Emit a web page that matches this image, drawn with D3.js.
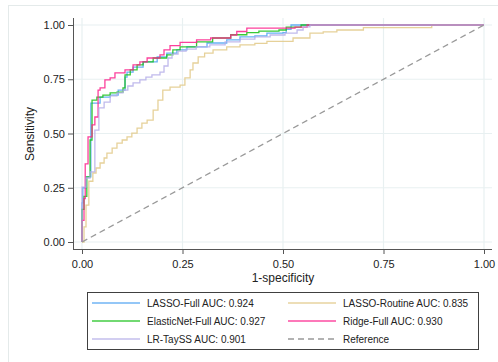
<!DOCTYPE html>
<html>
<head>
<meta charset="utf-8">
<script src="https://cdn.jsdelivr.net/npm/d3@7"></script>
<style>
  body { margin: 0; background: #fff; }
  text { font-family: "Liberation Sans", Arial, sans-serif; fill: #222; }
</style>
</head>
<body>
<svg id="chart" width="498" height="362"></svg>
<script>
// ROC step points (false positive rate, true positive rate)
const lassoFullFpr = [0, 0, 0.002, 0.010, 0.022, 0.045, 0.070, 0.090, 0.107, 0.112, 0.127, 0.152, 0.187, 0.211, 0.236, 0.261, 0.311, 0.360, 0.393, 0.430, 0.460, 0.500, 0.508, 0.520, 1];
const lassoFullTpr = [0, 0.18, 0.25, 0.30, 0.64, 0.668, 0.677, 0.70, 0.76, 0.783, 0.806, 0.83, 0.853, 0.87, 0.885, 0.899, 0.917, 0.931, 0.945, 0.95, 0.963, 0.965, 0.98, 1, 1];

const lassoRoutineFpr = [0, 0.005, 0.010, 0.017, 0.027, 0.035, 0.045, 0.055, 0.062, 0.075, 0.087, 0.100, 0.112, 0.124, 0.137, 0.149, 0.162, 0.177, 0.189, 0.201, 0.219, 0.244, 0.256, 0.269, 0.276, 0.289, 0.305, 0.326, 0.36, 0.393, 0.43, 0.46, 0.525, 0.567, 0.60, 0.634, 0.70, 0.87, 1];
const lassoRoutineTpr = [0, 0.07, 0.17, 0.28, 0.318, 0.341, 0.364, 0.387, 0.41, 0.433, 0.456, 0.47, 0.484, 0.502, 0.525, 0.548, 0.562, 0.608, 0.654, 0.70, 0.714, 0.723, 0.756, 0.793, 0.825, 0.853, 0.87, 0.885, 0.899, 0.908, 0.915, 0.925, 0.94, 0.963, 0.968, 0.977, 0.988, 1, 1];

const elasticNetFpr = [0, 0, 0.005, 0.012, 0.020, 0.025, 0.037, 0.052, 0.070, 0.087, 0.102, 0.107, 0.120, 0.137, 0.152, 0.177, 0.211, 0.226, 0.244, 0.285, 0.325, 0.370, 0.410, 0.440, 0.490, 0.508, 0.545, 1];
const elasticNetTpr = [0, 0.15, 0.21, 0.30, 0.47, 0.654, 0.668, 0.677, 0.687, 0.691, 0.71, 0.77, 0.793, 0.816, 0.83, 0.848, 0.862, 0.885, 0.899, 0.922, 0.94, 0.955, 0.965, 0.972, 0.977, 0.99, 1, 1];

const ridgeFullFpr = [0, 0, 0.005, 0.008, 0.015, 0.025, 0.032, 0.040, 0.045, 0.057, 0.070, 0.082, 0.107, 0.127, 0.144, 0.162, 0.194, 0.204, 0.219, 0.244, 0.285, 0.320, 0.370, 0.385, 0.410, 0.530, 0.560, 1];
const ridgeFullTpr = [0, 0.10, 0.20, 0.36, 0.484, 0.54, 0.576, 0.70, 0.71, 0.747, 0.756, 0.779, 0.793, 0.816, 0.83, 0.848, 0.862, 0.885, 0.905, 0.92, 0.931, 0.94, 0.954, 0.97, 0.986, 0.99, 1, 1];

const lrTaySSFpr = [0, 0, 0.010, 0.020, 0.032, 0.042, 0.055, 0.070, 0.087, 0.102, 0.114, 0.127, 0.144, 0.159, 0.174, 0.194, 0.204, 0.214, 0.224, 0.239, 0.259, 0.284, 0.318, 0.356, 0.393, 0.430, 0.468, 0.505, 0.535, 0.550, 0.567, 1];
const lrTaySSTpr = [0, 0.253, 0.295, 0.323, 0.516, 0.618, 0.645, 0.673, 0.687, 0.700, 0.719, 0.733, 0.747, 0.760, 0.770, 0.783, 0.811, 0.848, 0.866, 0.880, 0.889, 0.899, 0.908, 0.922, 0.935, 0.945, 0.954, 0.963, 0.977, 0.991, 1, 1];

const referenceFpr = [0, 1];
const referenceTpr = [0, 1];

const seriesNames = ['LASSO-Full', 'LASSO-Routine', 'ElasticNet-Full', 'Ridge-Full', 'LR-TaySS', 'Reference'];
const aucValues = [0.924, 0.835, 0.927, 0.930, 0.901, null];
const tickValues = [0, 0.25, 0.5, 0.75, 1];

const colors = ['#4ea3f2', '#e2c987', '#15c015', '#fc1f8b', '#b5aee9', '#999999'];

const series = [
  [lassoFullFpr, lassoFullTpr],
  [lassoRoutineFpr, lassoRoutineTpr],
  [elasticNetFpr, elasticNetTpr],
  [ridgeFullFpr, ridgeFullTpr],
  [lrTaySSFpr, lrTaySSTpr],
  [referenceFpr, referenceTpr]
].map(([f, t], i) => ({
  name: seriesNames[i],
  label: aucValues[i] == null ? seriesNames[i] : `${seriesNames[i]} AUC: ${aucValues[i].toFixed(3)}`,
  color: colors[i],
  points: f.map((d, j) => [d, t[j]])
}));

const svg = d3.select('#chart');

// graph region outline
svg.append('rect')
  .attr('x', 8.5).attr('y', 5.5)
  .attr('width', 520).attr('height', 400)
  .attr('fill', 'none')
  .attr('stroke', '#e4eaea');

const x = d3.scaleLinear().domain([0, 1]).range([82, 484]);
const y = d3.scaleLinear().domain([0, 1]).range([242, 25]);

const plotLeft = 73, plotRight = 492, plotTop = 18, plotBottom = 249;

// grid
svg.append('g').selectAll('line')
  .data(tickValues)
  .enter().append('line')
  .attr('x1', d => x(d)).attr('x2', d => x(d))
  .attr('y1', plotTop).attr('y2', plotBottom)
  .attr('stroke', '#e8f0f1').attr('stroke-width', 1.2);

svg.append('g').selectAll('line')
  .data(tickValues)
  .enter().append('line')
  .attr('x1', plotLeft).attr('x2', plotRight)
  .attr('y1', d => y(d)).attr('y2', d => y(d))
  .attr('stroke', '#e8f0f1').attr('stroke-width', 1.2);

// axes
const yAxis = svg.append('g')
  .attr('transform', `translate(${plotLeft},0)`)
  .call(d3.axisLeft(y).tickValues(tickValues).tickFormat(d3.format('.2f')).tickSize(5).tickPadding(3));
yAxis.select('.domain').remove();

const xAxis = svg.append('g')
  .attr('transform', `translate(0,${plotBottom})`)
  .call(d3.axisBottom(x).tickValues(tickValues).tickFormat(d3.format('.2f')).tickSize(5).tickPadding(6));
xAxis.select('.domain').remove();

svg.selectAll('.tick text').attr('font-size', 11).attr('font-family', '"Liberation Sans", Arial, sans-serif').attr('fill', '#222');
svg.selectAll('.tick line').attr('stroke', '#555');

svg.append('line')
  .attr('x1', plotLeft + 0.5).attr('x2', plotLeft + 0.5)
  .attr('y1', plotTop).attr('y2', plotBottom)
  .attr('stroke', '#555');
svg.append('line')
  .attr('x1', plotLeft).attr('x2', plotRight)
  .attr('y1', plotBottom + 0.5).attr('y2', plotBottom + 0.5)
  .attr('stroke', '#555');

// curves
const line = d3.line()
  .x(d => x(d[0]))
  .y(d => y(d[1]))
  .curve(d3.curveStepAfter);

svg.append('g').selectAll('path')
  .data(series)
  .enter().append('path')
  .attr('d', d => d.name === 'Reference' ? d3.line().x(p => x(p[0])).y(p => y(p[1]))(d.points) : line(d.points))
  .attr('fill', 'none')
  .attr('stroke', d => d.color)
  .attr('stroke-width', 1.3)
  .attr('stroke-opacity', d => d.name === 'Reference' ? 1 : 0.85)
  .attr('stroke-dasharray', d => d.name === 'Reference' ? '6,4' : null);

// axis titles
svg.append('text')
  .attr('x', 283).attr('y', 282)
  .attr('text-anchor', 'middle')
  .attr('font-size', 12)
  .text('1-specificity');

svg.append('text')
  .attr('transform', 'translate(34,134) rotate(-90)')
  .attr('text-anchor', 'middle')
  .attr('font-size', 12)
  .text('Sensitivity');

// legend
const legend = svg.append('g');
legend.append('rect')
  .attr('x', 87.5).attr('y', 292.5)
  .attr('width', 391).attr('height', 57)
  .attr('fill', '#fff')
  .attr('stroke', '#404040');

const legendOrder = ['LASSO-Full', 'ElasticNet-Full', 'LR-TaySS', 'LASSO-Routine', 'Ridge-Full', 'Reference'];
const items = legend.selectAll('g.item')
  .data(legendOrder.map(n => series.find(s => s.name === n)))
  .enter().append('g')
  .attr('class', 'item')
  .attr('transform', (d, i) => `translate(${i < 3 ? 92 : 288},${303 + (i % 3) * 18})`);

items.append('line')
  .attr('x1', 0).attr('x2', 48)
  .attr('stroke', d => d.color)
  .attr('stroke-width', 1.5)
  .attr('stroke-opacity', d => d.name === 'Reference' ? 1 : 0.8)
  .attr('stroke-dasharray', d => d.name === 'Reference' ? '6,4' : null);

items.append('text')
  .attr('x', 55).attr('y', 3.5)
  .attr('font-size', 10)
  .text(d => d.label);
</script>
</body>
</html>
